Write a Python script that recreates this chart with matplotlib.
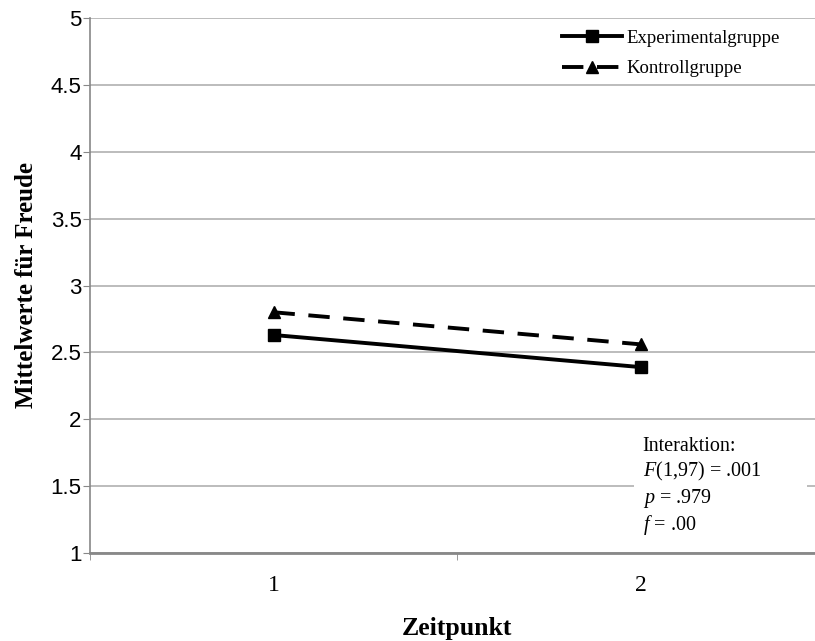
import matplotlib.pyplot as plt
from matplotlib.patches import Rectangle

zeitpunkt = [1, 2]
experimental = [2.63, 2.39]
kontroll = [2.80, 2.56]
yticks = [1, 1.5, 2, 2.5, 3, 3.5, 4, 4.5, 5]
ytick_labels = ["1", "1.5", "2", "2.5", "3", "3.5", "4", "4.5", "5"]
stats_text = "Interaktion:\n$F$(1,97) = .001\n$p$ = .979\n$f$ = .00"

plt.rcParams["font.family"] = ["Liberation Serif", "DejaVu Serif"]
plt.rcParams["mathtext.fontset"] = "custom"
plt.rcParams["mathtext.it"] = "Liberation Serif:italic"
plt.rcParams["mathtext.rm"] = "Liberation Serif"

fig = plt.figure(figsize=(8.15, 6.41), dpi=100)
ax = fig.add_axes([90 / 815, 88 / 641, 734 / 815, 535 / 641])

ax.plot(zeitpunkt, experimental, color="black", lw=2.8, marker="s",
        markersize=9, label="Experimentalgruppe")
ax.plot(zeitpunkt, kontroll, color="black", lw=2.8, marker="^",
        markersize=9, dashes=(5.5, 3.5), label="Kontrollgruppe")

ax.set_xlim(0.5, 2.5)
ax.set_ylim(1, 5)
ax.set_yticks(yticks)
ax.set_yticklabels(ytick_labels, fontfamily="Liberation Sans", fontsize=16)
ax.set_xticks(zeitpunkt)
ax.set_xticklabels([str(z) for z in zeitpunkt], fontsize=17)
ax.set_xticks([0.5, 1.5, 2.5], minor=True)
ax.tick_params(axis="x", which="major", length=0, pad=16)
ax.tick_params(axis="x", which="minor", length=5, color="#888888")
ax.tick_params(axis="y", length=5, color="#888888", pad=1)
ax.grid(axis="y", color="#b0b0b0", lw=1.2)
ax.set_axisbelow(True)

for s in ["top", "right"]:
    ax.spines[s].set_visible(False)
ax.spines["left"].set_color("#888888")
ax.spines["left"].set_linewidth(1.2)
ax.spines["bottom"].set_color("#888888")
ax.spines["bottom"].set_linewidth(2)

ax.set_xlabel("Zeitpunkt", fontsize=18.5, fontweight="bold", labelpad=15)
ax.set_ylabel("Mittelwerte für Freude", fontsize=18, fontweight="bold", labelpad=9)

leg = ax.legend(loc="upper left", bbox_to_anchor=(0.62, 1.01), frameon=False,
                fontsize=13.5, handlelength=3.2, handletextpad=0.25,
                labelspacing=0.72)

ax.add_patch(Rectangle((0.741, 0.015), 0.236, 0.224, transform=ax.transAxes,
                       facecolor="white", edgecolor="none", zorder=1.5))
ax.text(0.753, 0.216, stats_text, transform=ax.transAxes, fontsize=14.5,
        va="top", ha="left", linespacing=1.22, zorder=3)

fig.savefig("out.png", dpi=100)
